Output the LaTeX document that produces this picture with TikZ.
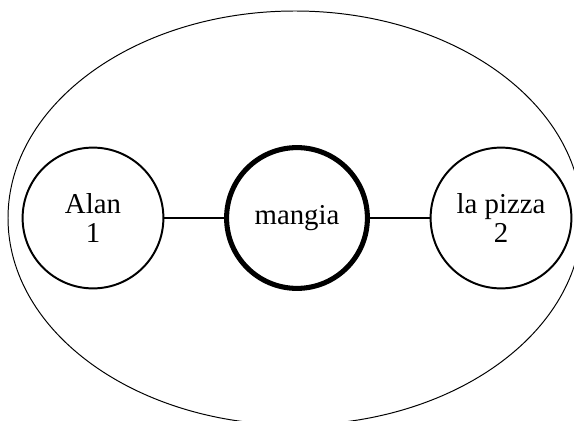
\documentclass[tikz,border=0pt]{standalone}
\usepackage{fontspec}
\setmainfont{Liberation Serif}

\begin{document}
\begin{tikzpicture}[word/.style={circle,draw,line width=1.4pt,minimum size=3.52cm,align=center,inner sep=0pt,font=\fontsize{20.5}{20.6}\selectfont},
    verb/.style={word,line width=3.6pt},
    link/.style={line width=1.4pt}]

    \useasboundingbox (0,0) rectangle (14.35,10.5);
    \clip (0,0) rectangle (14.35,10.5);
    \draw[line width=0.7pt] (7.375,5.05) ellipse (7.175 and 5.175);
    \node[word] (alan) at (2.325,5.05) {Alan\\1};
    \node[verb] (mangia) at (7.425,5.05) {mangia};
    \node[word] (pizza) at (12.525,5.05) {la pizza\\2};

    \draw[link] (alan) -- (mangia);
    \draw[link] (mangia) -- (pizza);

  \end{tikzpicture}
\end{document}
